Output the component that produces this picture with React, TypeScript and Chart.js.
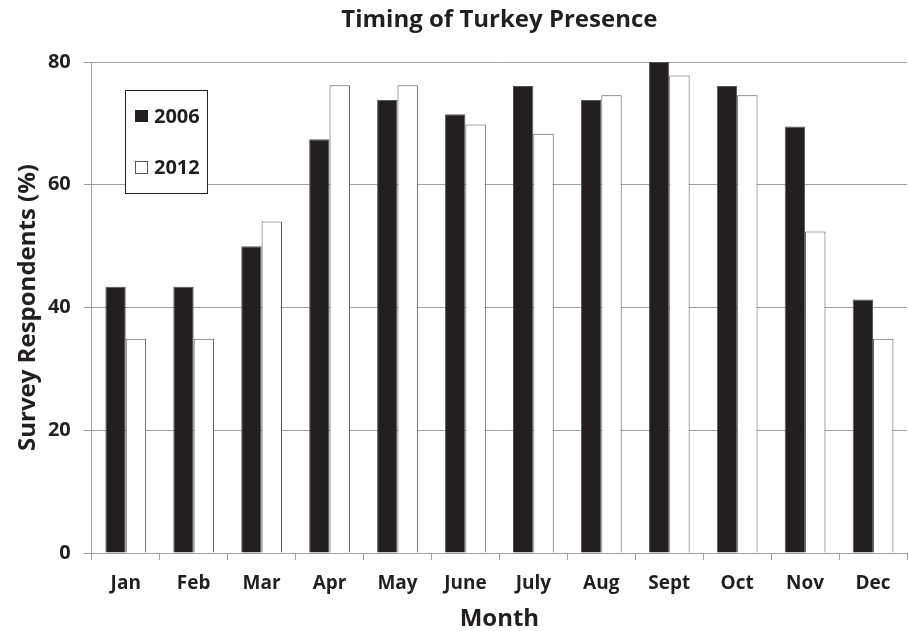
import React, { useEffect, useRef } from "react";
import { Chart, registerables } from "chart.js";

Chart.register(...registerables);

const months = ["Jan", "Feb", "Mar", "Apr", "May", "June", "July", "Aug", "Sept", "Oct", "Nov", "Dec"];
const values2006 = [43.4, 43.4, 50.0, 67.4, 73.8, 71.5, 76.1, 73.8, 80.0, 76.1, 69.5, 41.3];
const values2012 = [34.9, 34.9, 54.0, 76.2, 76.2, 69.8, 68.3, 74.6, 77.8, 74.6, 52.4, 34.9];
const yTicks = [0, 20, 40, 60, 80];
const chartTitle = "Timing of Turkey Presence";
const seriesNames = ["2006", "2012"];

const FONT = "'Open Sans', 'Liberation Sans', sans-serif";
const INK = "#231f20";

const customDecor = {
  id: "customDecor",
  afterDraw(chart: any) {
    const ctx = chart.ctx;
    const area = chart.chartArea;
    ctx.save();
    // title centred over the plot area
    ctx.font = `bold 24px ${FONT}`;
    ctx.fillStyle = INK;
    ctx.textAlign = "center";
    ctx.textBaseline = "middle";
    ctx.fillText(chartTitle, (area.left + area.right) / 2, 20);

    // legend box
    const x = 125, y = 90, w = 82, h = 103;
    ctx.fillStyle = "#fff";
    ctx.fillRect(x, y, w, h);
    ctx.strokeStyle = INK;
    ctx.lineWidth = 1;
    ctx.strokeRect(x + 0.5, y + 0.5, w, h);
    ctx.font = `bold 20px ${FONT}`;
    ctx.textAlign = "left";
    ctx.fillStyle = INK;
    ctx.fillRect(135, 110, 13, 12);
    ctx.fillText(seriesNames[0], 154, 117);
    ctx.strokeStyle = "#555";
    ctx.strokeRect(135.5, 161.5, 12, 12);
    ctx.fillStyle = INK;
    ctx.fillText(seriesNames[1], 154, 168);
    ctx.restore();
  },
};

export default function App() {
  const ref = useRef<HTMLCanvasElement>(null);
  useEffect(() => {
    document.body.style.margin = "0";
    const chart = new Chart(ref.current!, {
      type: "bar",
      data: {
        labels: months,
        datasets: [
          {
            label: seriesNames[0],
            data: values2006,
            backgroundColor: INK,
            borderColor: "#555",
            borderWidth: 1,
            categoryPercentage: 0.6,
            barPercentage: 1.0,
          },
          {
            label: seriesNames[1],
            data: values2012,
            backgroundColor: "#ffffff",
            borderColor: "#555",
            borderWidth: 1,
            categoryPercentage: 0.6,
            barPercentage: 1.0,
          },
        ],
      },
      options: {
        animation: false,
        responsive: false,
        maintainAspectRatio: false,
        layout: { padding: { left: 20.5, right: 1, top: 62, bottom: 0 } },
        plugins: {
          legend: { display: false },
          tooltip: { enabled: false },
          title: { display: false },
        },
        scales: {
          x: {
            offset: true,
            grid: {
              offset: true,
              drawOnChartArea: false,
              drawTicks: true,
              tickLength: 7,
              color: "#a0a0a0",
            },
            border: { color: "#a0a0a0" },
            ticks: {
              color: INK,
              font: { family: FONT, size: 19, weight: "bold", lineHeight: 1 },
              padding: 14,
            },
            title: {
              display: true,
              text: "Month",
              color: INK,
              font: { family: FONT, size: 24, weight: "bold", lineHeight: 1 },
              padding: { top: 0, bottom: 0 },
            },
          },
          y: {
            min: 0,
            max: 80,
            afterBuildTicks: (axis: any) => {
              axis.ticks = yTicks.map((v) => ({ value: v }));
            },
            grid: {
              color: "#a0a0a0",
              tickLength: 8,
            },
            border: { color: "#a0a0a0" },
            ticks: {
              color: INK,
              font: { family: FONT, size: 20, weight: "bold" },
              padding: 13,
            },
            title: {
              display: true,
              text: "Survey Respondents (%)",
              color: INK,
              font: { family: FONT, size: 24, weight: "bold", lineHeight: 0.6 },
              padding: { top: 0, bottom: 0 },
            },
          },
        },
      },
      plugins: [customDecor],
    });
    return () => chart.destroy();
  }, []);
  return (
    <div style={{ width: 908, height: 631, background: "#fff" }}>
      <canvas ref={ref} width={908} height={631} />
    </div>
  );
}
